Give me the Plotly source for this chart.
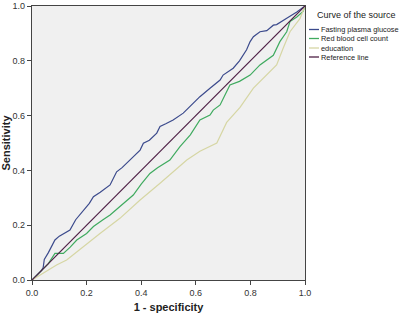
import plotly.graph_objects as go

# ---- data ----
fpg_x = [0, 0.02, 0.035, 0.041, 0.045, 0.06, 0.084, 0.10, 0.139, 0.16, 0.188, 0.21, 0.225, 0.25, 0.286, 0.31, 0.33, 0.371, 0.396, 0.408, 0.43, 0.457, 0.469, 0.49, 0.517, 0.554, 0.579, 0.615, 0.652, 0.689, 0.70, 0.725, 0.737, 0.76, 0.786, 0.799, 0.811, 0.835, 0.86, 0.884, 0.896, 0.933, 0.97, 1]
fpg_y = [0, 0.02, 0.035, 0.045, 0.075, 0.10, 0.146, 0.16, 0.182, 0.22, 0.255, 0.28, 0.304, 0.32, 0.347, 0.395, 0.41, 0.45, 0.474, 0.499, 0.51, 0.536, 0.56, 0.57, 0.584, 0.609, 0.633, 0.669, 0.70, 0.73, 0.748, 0.766, 0.773, 0.80, 0.84, 0.87, 0.888, 0.906, 0.91, 0.93, 0.932, 0.955, 0.978, 1]

rbc_x = [0, 0.02, 0.041, 0.06, 0.084, 0.115, 0.14, 0.164, 0.2, 0.225, 0.26, 0.286, 0.322, 0.371, 0.40, 0.432, 0.46, 0.505, 0.542, 0.58, 0.615, 0.652, 0.664, 0.689, 0.725, 0.76, 0.799, 0.835, 0.884, 0.908, 0.933, 0.945, 0.97, 0.993, 1]
rbc_y = [0, 0.02, 0.044, 0.06, 0.097, 0.097, 0.12, 0.146, 0.17, 0.195, 0.22, 0.237, 0.268, 0.31, 0.35, 0.389, 0.41, 0.438, 0.487, 0.53, 0.584, 0.602, 0.62, 0.639, 0.712, 0.725, 0.748, 0.785, 0.82, 0.87, 0.906, 0.943, 0.96, 0.98, 1]

edu_x = [0, 0.041, 0.09, 0.127, 0.188, 0.249, 0.322, 0.396, 0.469, 0.542, 0.567, 0.615, 0.652, 0.677, 0.713, 0.762, 0.811, 0.86, 0.896, 0.92, 0.945, 0.982, 1]
edu_y = [0, 0.025, 0.055, 0.073, 0.122, 0.17, 0.225, 0.292, 0.353, 0.414, 0.438, 0.47, 0.487, 0.5, 0.575, 0.63, 0.70, 0.75, 0.785, 0.846, 0.906, 0.955, 1]

ref_x = [0, 1]
ref_y = [0, 1]

series_names = ["Fasting plasma glucose", "Red blood cell count", "education", "Reference line"]
series_colors = ["#3b4a8c", "#3faa5f", "#d6d6a4", "#4e1f45"]
tick_vals = [0, 0.2, 0.4, 0.6, 0.8, 1.0]
tick_text = ["0.0", "0.2", "0.4", "0.6", "0.8", "1.0"]

FONT = "Arial, Liberation Sans, sans-serif"

fig = go.Figure()
for xs, ys, name, col in [
    (fpg_x, fpg_y, series_names[0], series_colors[0]),
    (rbc_x, rbc_y, series_names[1], series_colors[1]),
    (edu_x, edu_y, series_names[2], series_colors[2]),
    (ref_x, ref_y, series_names[3], series_colors[3]),
]:
    fig.add_trace(go.Scatter(x=xs, y=ys, mode="lines", name=name,
                             line=dict(color=col, width=1.2), showlegend=False))

W, H = 400, 313
L, R, T, B = 32, 95, 6, 33
pw, ph = W - L - R, H - T - B

def px2paper(px, py):
    return (px - L) / pw, (H - B - py) / ph

shapes = []
annotations = []
# legend title
tx, ty = px2paper(315, 15)
annotations.append(dict(x=tx, y=ty, xref="paper", yref="paper", text="Curve of the source",
                        showarrow=False, xanchor="left", yanchor="middle",
                        font=dict(family=FONT, size=9, color="#222")))
item_y = [29.5, 38.5, 48, 57]
for name, col, iy in zip(series_names, series_colors, item_y):
    x0, y0 = px2paper(309, iy)
    x1, _ = px2paper(319, iy)
    shapes.append(dict(type="line", xref="paper", yref="paper", x0=x0, x1=x1, y0=y0, y1=y0,
                       line=dict(color=col, width=1.3)))
    xt, _ = px2paper(318.5, iy)
    annotations.append(dict(x=xt, y=y0, xref="paper", yref="paper", text=name,
                            showarrow=False, xanchor="left", yanchor="middle",
                            font=dict(family=FONT, size=7.4, color="#222")))

axis_common = dict(range=[0, 1], tickvals=tick_vals, ticktext=tick_text, ticks="outside",
                   ticklen=4, tickcolor="#444", showline=True, linecolor="#444", linewidth=1.2,
                   mirror=True, showgrid=False, zeroline=False, automargin=False,
                   tickfont=dict(family=FONT, size=9, color="#333"))

fig.update_layout(
    width=W, height=H,
    margin=dict(l=L, r=R, t=T, b=B),
    paper_bgcolor="white", plot_bgcolor="#f0f0f0",
    xaxis=dict(**axis_common, title=dict(text="<b>1 - specificity</b>",
                                         font=dict(family=FONT, size=11, color="#222"))),
    yaxis=dict(**axis_common, title=dict(text="<b>Sensitivity</b>",
                                         font=dict(family=FONT, size=11, color="#222"))),
    shapes=shapes, annotations=annotations,
)

fig.write_html("out.html", config={"displayModeBar": False},
               post_script="document.body.style.margin='0px';")
